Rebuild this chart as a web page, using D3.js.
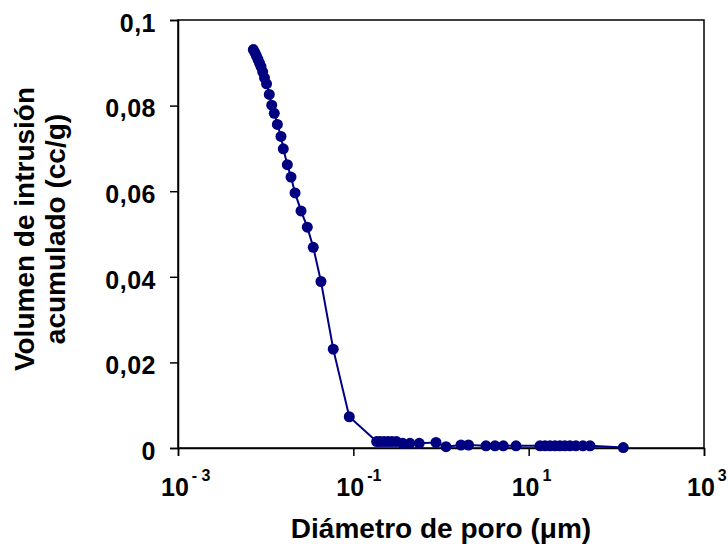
<!DOCTYPE html>
<html><head><meta charset="utf-8">
<script src="https://cdn.jsdelivr.net/npm/d3@7"></script>
<style>body{margin:0;background:#fff}svg{display:block}text{font-family:"Liberation Sans",Arial,sans-serif;font-weight:bold;fill:#000}</style>
</head><body>
<script>
const diameters = [0.00723,0.00755,0.00785,0.00818,0.00851,0.00885,0.00925,0.0097,0.01023,0.0110,0.01172,0.01254,0.0136,0.01496,0.01589,0.01766,0.01946,0.02163,0.02531,0.02985,0.0349,0.04275,0.0590,0.0899,
0.1845,0.2014,0.2239,0.2485,0.276,0.3105,0.3654,0.4428,0.565,0.877,1.14,1.69,2.06,3.26,4.13,5.14,7.17,
13.46,15.35,17.5,19.95,22.75,25.9,29.6,34.6,41.6,50.1,120];
const volumes = [0.0931,0.0924,0.0916,0.0908,0.0899,0.0891,0.0879,0.0865,0.0851,0.0826,0.0801,0.0782,0.0756,0.0728,0.0699,0.0662,0.0633,0.0596,0.0554,0.0516,0.0469,0.0389,0.0231,0.0073,
0.0015,0.0015,0.0015,0.0015,0.0015,0.0015,0.0011,0.0011,0.0011,0.0013,0.0003,0.0007,0.0007,0.0005,0.0005,0.0005,0.0005,
0.0005,0.0005,0.0005,0.0005,0.0005,0.0005,0.0005,0.0005,0.0005,0.0005,0.0001];
const yTicks = [0,0.02,0.04,0.06,0.08,0.1];
const yTickLabels = ["0","0,02","0,04","0,06","0,08","0,1"];
const xTicks = [1e-3,1e-1,1e1,1e3];
const xTickExp = ["- 3","-1","1","3"];
const xTitle = "Diámetro de poro (μm)";
const yTitle = ["Volumen de intrusión","acumulado (cc/g)"];

const W=728,H=548, L=178,R=704,T=20,B=448;
const svg=d3.select("body").append("svg").attr("width",W).attr("height",H);
const x=d3.scaleLog().domain([1e-3,1e3]).range([L,R]);
const y=d3.scaleLinear().domain([0,0.1]).range([B,T]);

svg.append("rect").attr("x",L).attr("y",T).attr("width",R-L).attr("height",B-T)
  .attr("fill","none").attr("stroke","#000").attr("stroke-width",1.5);

const yAxis=svg.append("g").attr("transform",`translate(${L},0)`)
  .call(d3.axisLeft(y).tickValues(yTicks).tickSize(8).tickFormat((d,i)=>yTickLabels[i]));
const xAxis=svg.append("g").attr("transform",`translate(0,${B})`)
  .call(d3.axisBottom(x).tickValues(xTicks).tickSize(8).tickFormat(()=>""));
[yAxis,xAxis].forEach(g=>{g.select(".domain").attr("stroke","#000").attr("stroke-width",1.5);
  g.selectAll(".tick line").attr("stroke","#000").attr("stroke-width",1.5);});
yAxis.selectAll(".tick text").attr("x",-22).attr("dy","0.45em")
  .style("font-size","25px").style("letter-spacing","0.5px")
  .style("font-family","'Liberation Sans',Arial,sans-serif").style("font-weight","bold");

xTicks.forEach((t,i)=>{
  const g=svg.append("text").attr("x",x(t)-17).attr("y",496).style("font-size","25px");
  g.append("tspan").text("10");
  g.append("tspan").attr("dx",3).attr("dy",-15).style("font-size","16px").text(xTickExp[i]);
});

svg.append("text").attr("x",441).attr("y",538).attr("text-anchor","middle").style("font-size","28px").text(xTitle);
yTitle.forEach((t,i)=>{
  svg.append("text").attr("transform",`translate(${34+i*31},${229}) rotate(-90)`)
    .attr("text-anchor","middle").style("font-size","28px").text(t);
});

const data=diameters.map((d,i)=>[d,volumes[i]]);
svg.append("path").datum(data).attr("fill","none").attr("stroke","#000080").attr("stroke-width",2)
  .attr("d",d3.line().x(d=>x(d[0])).y(d=>y(d[1])));
svg.selectAll("circle.pt").data(data).join("circle").attr("class","pt")
  .attr("cx",d=>x(d[0])).attr("cy",d=>y(d[1])).attr("r",5.5).attr("fill","#000080");
</script>
</body></html>
